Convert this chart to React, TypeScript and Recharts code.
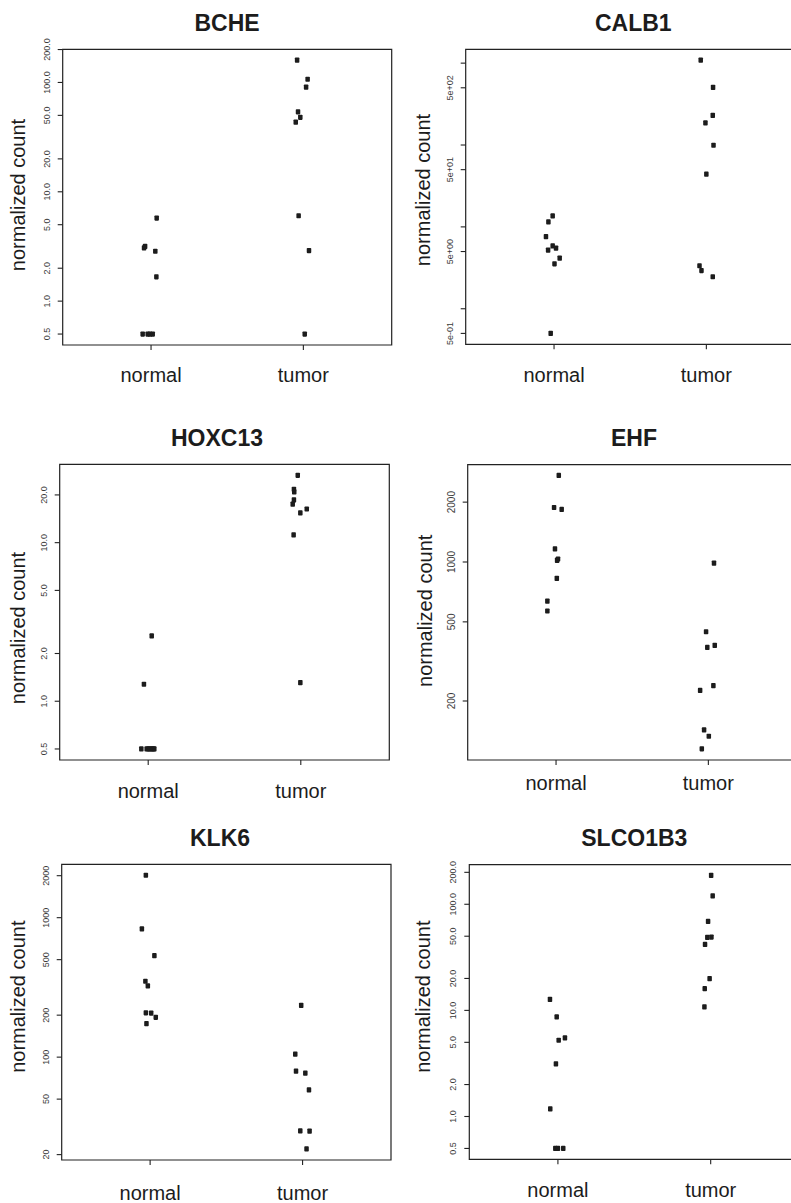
import React from 'react';
import { ScatterChart, Scatter, XAxis, YAxis, ReferenceArea } from 'recharts';

const groups = ['normal', 'tumor'];

// BCHE
const bcheNormal = [0.5, 0.5, 0.5, 0.5, 5.75, 3.17, 3.07, 2.86, 1.67];
const bcheNormalJitter = [-0.055, -0.022, -0.007, 0.011, 0.037, -0.039, -0.046, 0.028, 0.035];
const bcheTumor = [160, 107, 90.6, 53.9, 48, 43.4, 6.04, 2.9, 0.5];
const bcheTumorJitter = [-0.041, 0.028, 0.018, -0.035, -0.02, -0.05, -0.031, 0.037, 0.009];
const bcheTicks = [0.5, 1, 2, 5, 10, 20, 50, 100, 200];
const bcheTickLabels = ['0.5', '1.0', '2.0', '5.0', '10.0', '20.0', '50.0', '100.0', '200.0'];

// CALB1
const calb1Normal = [13.6, 11.5, 7.6, 5.87, 5.5, 5.2, 4.15, 3.54, 0.5];
const calb1NormalJitter = [-0.009, -0.037, -0.053, -0.009, 0.013, -0.039, 0.037, 0.003, -0.022];
const calb1Tumor = [1088, 506, 230, 186, 99.3, 44, 3.35, 2.93, 2.46];
const calb1TumorJitter = [-0.037, 0.044, 0.042, -0.006, 0.047, 0.0, -0.045, -0.032, 0.042];
const calb1Ticks = [0.5, 1, 5, 10, 50, 100, 500, 1000];
const calb1TickLabels = ['5e-01', '', '5e+00', '', '5e+01', '', '5e+02', ''];

// HOXC13
const hoxc13Normal = [0.5, 0.5, 0.5, 0.5, 0.5, 0.5, 0.5, 2.58, 1.28];
const hoxc13NormalJitter = [-0.045, -0.01, 0.001, 0.012, 0.023, 0.034, 0.04, 0.023, -0.028];
const hoxc13Tumor = [26.6, 21.7, 20.9, 18.6, 17.5, 16.3, 15.4, 11.2, 1.31];
const hoxc13TumorJitter = [-0.02, -0.045, -0.043, -0.045, -0.053, 0.039, -0.003, -0.047, -0.003];
const hoxc13Ticks = [0.5, 1, 2, 5, 10, 20];
const hoxc13TickLabels = ['0.5', '1.0', '2.0', '5.0', '10.0', '20.0'];

// EHF
const ehfNormal = [2724, 1880, 1838, 1164, 1035, 1019, 827, 636, 567];
const ehfNormalJitter = [0.018, -0.013, 0.037, -0.007, 0.013, 0.007, 0.005, -0.057, -0.057];
const ehfTumor = [987, 446, 372, 381, 239, 226, 143, 133, 115];
const ehfTumorJitter = [0.037, -0.015, -0.007, 0.042, 0.033, -0.054, -0.028, 0.003, -0.043];
const ehfTicks = [200, 500, 1000, 2000];
const ehfTickLabels = ['200', '500', '1000', '2000'];

// KLK6
const klk6Normal = [2014, 830, 534, 350, 324, 208, 207, 193, 174];
const klk6NormalJitter = [-0.028, -0.054, 0.028, -0.031, -0.015, -0.028, 0.007, 0.037, -0.024];
const klk6Tumor = [235, 105, 79.3, 76.7, 58.2, 29.6, 29.5, 22];
const klk6TumorJitter = [-0.009, -0.048, -0.043, 0.018, 0.042, -0.015, 0.046, 0.026];
const klk6Ticks = [20, 50, 100, 200, 500, 1000, 2000];
const klk6TickLabels = ['20', '50', '100', '200', '500', '1000', '2000'];

// SLCO1B3
const slcoNormal = [12.7, 8.67, 5.23, 5.5, 3.13, 1.18, 0.5, 0.5, 0.5];
const slcoNormalJitter = [-0.052, -0.008, 0.005, 0.046, -0.013, -0.05, -0.017, 0.0, 0.035];
const slcoTumor = [187, 120, 68.9, 48.7, 49.1, 41.8, 19.9, 16, 10.8];
const slcoTumorJitter = [0.003, 0.013, -0.017, -0.022, 0.005, -0.037, -0.007, -0.039, -0.041];
const slcoTicks = [0.5, 1, 2, 5, 10, 20, 50, 100, 200];
const slcoTickLabels = ['0.5', '1.0', '2.0', '5.0', '10.0', '20.0', '50.0', '100.0', '200.0'];

const FONT = '"Liberation Sans", Arial, Helvetica, sans-serif';
const INK = '#1c1c1c';
const X_DOMAIN: [number, number] = [0.42, 2.58];

type Panel = {
  title: string;
  normal: number[];
  normalJitter: number[];
  tumor: number[];
  tumorJitter: number[];
  ticks: number[];
  tickLabels: string[];
  yDomain: [number, number];
  chartLeft: number;
  chartTop: number;
  chartW: number;
  chartH: number;
  boxL: number;
  boxR: number;
  boxT: number;
  boxB: number;
  titleX: number;
  titleBase: number;
  yLabelX: number;
  yLabelY: number;
  xLabelBase: number;
  yTickFont: number;
};

const panels: Panel[] = [
  {
    title: 'BCHE', normal: bcheNormal, normalJitter: bcheNormalJitter, tumor: bcheTumor, tumorJitter: bcheTumorJitter,
    ticks: bcheTicks, tickLabels: bcheTickLabels, yDomain: [0.397, 201],
    chartLeft: 0, chartTop: 0, chartW: 400, chartH: 400,
    boxL: 62.7, boxR: 391.7, boxT: 49.3, boxB: 345,
    titleX: 227, titleBase: 30.7, yLabelX: 25, yLabelY: 195, xLabelBase: 381.7, yTickFont: 9,
  },
  {
    title: 'CALB1', normal: calb1Normal, normalJitter: calb1NormalJitter, tumor: calb1Tumor, tumorJitter: calb1TumorJitter,
    ticks: calb1Ticks, tickLabels: calb1TickLabels, yDomain: [0.368, 1476],
    chartLeft: 395, chartTop: 0, chartW: 410, chartH: 400,
    boxL: 465.7, boxR: 794.7, boxT: 49.3, boxB: 344.3,
    titleX: 633.3, titleBase: 30.7, yLabelX: 430, yLabelY: 190, xLabelBase: 381.7, yTickFont: 9,
  },
  {
    title: 'HOXC13', normal: hoxc13Normal, normalJitter: hoxc13NormalJitter, tumor: hoxc13Tumor, tumorJitter: hoxc13TumorJitter,
    ticks: hoxc13Ticks, tickLabels: hoxc13TickLabels, yDomain: [0.426, 31.2],
    chartLeft: 0, chartTop: 400, chartW: 400, chartH: 400,
    boxL: 59.7, boxR: 389.3, boxT: 464.3, boxB: 760,
    titleX: 217, titleBase: 446, yLabelX: 25, yLabelY: 628, xLabelBase: 797.5, yTickFont: 9,
  },
  {
    title: 'EHF', normal: ehfNormal, normalJitter: ehfNormalJitter, tumor: ehfTumor, tumorJitter: ehfTumorJitter,
    ticks: ehfTicks, tickLabels: ehfTickLabels, yDomain: [101, 3085],
    chartLeft: 395, chartTop: 400, chartW: 410, chartH: 400,
    boxL: 467.7, boxR: 796.7, boxT: 464.7, boxB: 760,
    titleX: 634, titleBase: 445.7, yLabelX: 431.7, yLabelY: 610.8, xLabelBase: 790, yTickFont: 10,
  },
  {
    title: 'KLK6', normal: klk6Normal, normalJitter: klk6NormalJitter, tumor: klk6Tumor, tumorJitter: klk6TumorJitter,
    ticks: klk6Ticks, tickLabels: klk6TickLabels, yDomain: [18.3, 2414],
    chartLeft: 0, chartTop: 800, chartW: 400, chartH: 403,
    boxL: 61.7, boxR: 391, boxT: 864.3, boxB: 1160,
    titleX: 220, titleBase: 845.7, yLabelX: 25, yLabelY: 996.7, xLabelBase: 1200, yTickFont: 9,
  },
  {
    title: 'SLCO1B3', normal: slcoNormal, normalJitter: slcoNormalJitter, tumor: slcoTumor, tumorJitter: slcoTumorJitter,
    ticks: slcoTicks, tickLabels: slcoTickLabels, yDomain: [0.395, 236],
    chartLeft: 395, chartTop: 800, chartW: 410, chartH: 403,
    boxL: 469.3, boxR: 799.3, boxT: 864.7, boxB: 1159.3,
    titleX: 634.3, titleBase: 845.7, yLabelX: 430, yLabelY: 996.7, xLabelBase: 1197.3, yTickFont: 9,
  },
];

const Square = (props: any) => {
  const { cx, cy } = props;
  if (cx == null || cy == null) return null;
  return <rect x={cx - 2.25} y={cy - 2.6} width={4.5} height={5.2} rx={0.8} fill={INK} />;
};

const Y_AXIS_W = 40;
const X_AXIS_H = 30;

function PanelChart({ p }: { p: Panel }) {
  const normalData = p.normal.map((v, i) => ({ x: 1 + p.normalJitter[i], y: v }));
  const tumorData = p.tumor.map((v, i) => ({ x: 2 + p.tumorJitter[i], y: v }));
  const margin = {
    left: p.boxL - p.chartLeft - Y_AXIS_W,
    top: p.boxT - p.chartTop,
    right: p.chartLeft + p.chartW - p.boxR,
    bottom: p.chartTop + p.chartH - p.boxB - X_AXIS_H,
  };
  const xBase = p.xLabelBase - p.chartTop;
  const yTickX = p.boxL - 13 - p.chartLeft;

  const XTick = (props: any) => {
    const { x, payload } = props;
    const label = groups[Math.round(payload.value) - 1];
    return (
      <text x={x} y={xBase} textAnchor="middle" fontSize={20} fontFamily={FONT} fill={INK}>
        {label}
      </text>
    );
  };

  const YTick = (props: any) => {
    const { y, payload } = props;
    const idx = p.ticks.indexOf(payload.value);
    const label = idx >= 0 ? p.tickLabels[idx] : '';
    if (!label) return <g />;
    return (
      <text
        transform={`translate(${yTickX},${y}) rotate(-90)`}
        textAnchor="middle"
        fontSize={p.yTickFont}
        fontFamily={FONT}
        fill="#3a3a3a"
      >
        {label}
      </text>
    );
  };

  return (
    <div style={{ position: 'absolute', left: p.chartLeft, top: p.chartTop, width: p.chartW, height: p.chartH }}>
      <ScatterChart width={p.chartW} height={p.chartH} margin={margin}>
        <XAxis
          type="number"
          dataKey="x"
          domain={X_DOMAIN}
          allowDataOverflow
          ticks={[1, 2]}
          height={X_AXIS_H}
          axisLine={false}
          tickSize={5}
          tickLine={{ stroke: '#222', strokeWidth: 1.1 }}
          tick={XTick}
          interval={0}
        />
        <YAxis
          type="number"
          dataKey="y"
          scale="log"
          domain={p.yDomain}
          allowDataOverflow
          ticks={p.ticks}
          width={Y_AXIS_W}
          axisLine={false}
          tickSize={5}
          tickLine={{ stroke: '#222', strokeWidth: 1.1 }}
          tick={YTick}
          interval={0}
        />
        <ReferenceArea
          x1={X_DOMAIN[0]}
          x2={X_DOMAIN[1]}
          y1={p.yDomain[0]}
          y2={p.yDomain[1]}
          fill="none"
          fillOpacity={0}
          stroke="#222"
          strokeWidth={1.2}
          ifOverflow="visible"
        />
        <Scatter data={normalData} shape={Square} isAnimationActive={false} />
        <Scatter data={tumorData} shape={Square} isAnimationActive={false} />
      </ScatterChart>
    </div>
  );
}

export default function App() {
  return (
    <div
      style={{
        position: 'absolute',
        left: 0,
        top: 0,
        width: 791,
        height: 1203,
        overflow: 'hidden',
        background: '#fff',
      }}
    >
      {panels.map((p) => (
        <PanelChart key={p.title} p={p} />
      ))}
      <svg
        width={791}
        height={1203}
        style={{ position: 'absolute', left: 0, top: 0, pointerEvents: 'none' }}
      >
        {panels.map((p) => (
          <g key={p.title}>
            <text x={p.titleX} y={p.titleBase} textAnchor="middle" fontSize={23} fontWeight="bold" fontFamily={FONT} fill={INK}>
              {p.title}
            </text>
            <text
              transform={`translate(${p.yLabelX},${p.yLabelY}) rotate(-90)`}
              textAnchor="middle"
              fontSize={20}
              fontFamily={FONT}
              fill={INK}
            >
              normalized count
            </text>
          </g>
        ))}
      </svg>
    </div>
  );
}
